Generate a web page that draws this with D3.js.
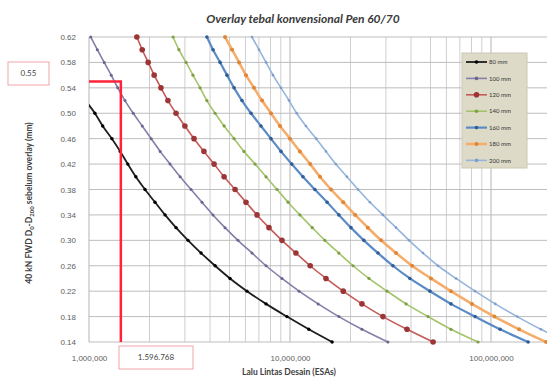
<!DOCTYPE html>
<html>
<head>
<meta charset="utf-8">
<script src="https://cdn.jsdelivr.net/npm/d3@7"></script>
<style>
  body { margin: 0; background: #fff; }
  svg { display: block; font-family: Lato, "Open Sans", sans-serif; }
</style>
</head>
<body>
<svg id="chart" width="547" height="381"></svg>
<script>
// deflection levels (mm) of every point, top to bottom
const dLevels = [0.62, 0.60, 0.58, 0.56, 0.54, 0.52, 0.50, 0.48, 0.46, 0.44, 0.42, 0.40, 0.38,
                 0.36, 0.34, 0.32, 0.30, 0.28, 0.26, 0.24, 0.22, 0.20, 0.18, 0.16, 0.14];

// design traffic (million ESA) for each overlay thickness, same order as dLevels
const esa80  = [null, null, null, null, 0.86, 0.96, 1.07, 1.17, 1.30, 1.43, 1.56, 1.71, 1.90,
                2.13, 2.39, 2.71, 3.11, 3.61, 4.24, 5.03, 6.11, 7.60, 9.66, 12.4, 16.2];
const esa100 = [1.02, 1.10, 1.19, 1.29, 1.39, 1.51, 1.66, 1.84, 2.04, 2.26, 2.53, 2.84, 3.22,
                3.65, 4.14, 4.75, 5.51, 6.47, 7.60, 9.12, 11.1, 13.8, 17.5, 22.8, 30.7];
const esa120 = [1.73, 1.84, 1.97, 2.11, 2.28, 2.47, 2.71, 3.00, 3.33, 3.73, 4.19, 4.70, 5.33,
                6.04, 6.85, 7.86, 9.12, 10.7, 12.6, 15.1, 18.4, 22.8, 29.0, 38.2, 51.5];
const esa140 = [2.62, 2.80, 3.04, 3.29, 3.57, 3.86, 4.24, 4.70, 5.27, 5.90, 6.70, 7.60, 8.62,
                9.78, 11.2, 12.9, 14.9, 17.5, 20.6, 24.7, 30.4, 37.8, 48.6, 63.2, 86.2];
const esa160 = [3.86, 4.14, 4.49, 4.86, 5.27, 5.77, 6.40, 7.17, 8.04, 9.02, 10.2, 11.6, 13.3,
                15.3, 17.5, 20.1, 23.3, 27.4, 32.5, 39.5, 49.7, 63.2, 83.3, 111, 153];
const esa180 = [4.75, 5.15, 5.58, 6.04, 6.62, 7.26, 8.04, 8.92, 10.0, 11.2, 12.6, 14.1, 16.0,
                18.4, 21.1, 24.4, 28.4, 33.7, 40.5, 50.3, 63.2, 80.4, 104, 138, 188];
const esa200 = [6.47, 7.01, 7.60, 8.23, 9.02, 9.89, 10.8, 12.0, 13.5, 15.1, 16.9, 19.2, 21.8,
                25.0, 29.0, 33.7, 39.1, 45.9, 54.5, 67.0, 83.3, 105, 135, 177, 242];

const seriesNames = ['80 mm', '100 mm', '120 mm', '140 mm', '160 mm', '180 mm', '200 mm'];
const yTicks = [0.14, 0.18, 0.22, 0.26, 0.30, 0.34, 0.38, 0.42, 0.46, 0.50, 0.54, 0.58, 0.62];
const xLabels = [1e6, 1e7, 1e8];

// red reading annotation
const annoDefl = 0.55;
const annoEsa = 1.44e6;   // where the red line sits in the picture
const annoEsaText = '1.596.768';
const annoDeflText = '0.55';

const styles = [
  { line: '#1e1e1e', mark: '#000000', w: 1.8, r: 1.7 },
  { line: '#857ea9', mark: '#6c6592', w: 1.6, r: 1.5 },
  { line: '#c65a58', mark: '#9c3536', w: 1.6, r: 2.8 },
  { line: '#a3c46a', mark: '#7f9f45', w: 1.6, r: 1.6 },
  { line: '#5a8bc6', mark: '#2f5d95', w: 2.2, r: 1.8 },
  { line: '#f6ad6a', mark: '#df8638', w: 2.6, r: 2.0 },
  { line: '#95b5dc', mark: '#7d9ecb', w: 1.6, r: 1.3 }
];

const allEsa = [esa80, esa100, esa120, esa140, esa160, esa180, esa200];
const series = seriesNames.map((name, i) => ({
  name: name,
  style: styles[i],
  points: dLevels.map((d, j) => ({ d: d, esa: allEsa[i][j] == null ? null : allEsa[i][j] * 1e6 }))
                 .filter(p => p.esa != null)
}));

const svg = d3.select('#chart');

const x = d3.scaleLog()
  .domain([1e6, 2e8])
  .range([89, 89 + 201 * Math.log10(200)]);
const y = d3.scaleLinear()
  .domain([0.14, 0.62])
  .range([342, 37]);

// grid
svg.append('g')
  .selectAll('line')
  .data(x.ticks().filter(t => t > 1e6 && t <= 2e8))
  .join('line')
  .attr('x1', d => x(d)).attr('x2', d => x(d))
  .attr('y1', y(0.62)).attr('y2', y(0.14))
  .attr('stroke', d => [1e7, 1e8].includes(d) ? '#b4b4b4' : '#cfcfcf')
  .attr('stroke-width', 1);

svg.append('g')
  .selectAll('line')
  .data(yTicks)
  .join('line')
  .attr('x1', x(1e6)).attr('x2', 547)
  .attr('y1', d => y(d)).attr('y2', d => y(d))
  .attr('stroke', '#bdbdbd')
  .attr('stroke-width', 1);

svg.append('line')
  .attr('x1', x(1e6)).attr('x2', x(1e6))
  .attr('y1', y(0.62)).attr('y2', y(0.14))
  .attr('stroke', '#b4b4b4');

// axes
const xAxis = svg.append('g')
  .attr('transform', `translate(0,${y(0.14)})`)
  .call(d3.axisBottom(x).tickValues(xLabels).tickFormat(d3.format(',')).tickSize(0).tickPadding(13));
xAxis.select('.domain').remove();
xAxis.selectAll('text').attr('fill', '#606060').attr('font-size', 8);

const yAxis = svg.append('g')
  .attr('transform', `translate(${x(1e6)},0)`)
  .call(d3.axisLeft(y).tickValues(yTicks).tickFormat(d3.format('.2f')).tickSize(0).tickPadding(13));
yAxis.select('.domain').remove();
yAxis.selectAll('text').attr('fill', '#606060').attr('font-size', 8);

// curves
svg.append('clipPath').attr('id', 'plotClip')
  .append('rect')
  .attr('x', x(1e6)).attr('y', 30)
  .attr('width', 547 - x(1e6)).attr('height', 317);

const lineGen = d3.line()
  .x(p => x(p.esa))
  .y(p => y(p.d))
  .curve(d3.curveMonotoneX);

const plot = svg.append('g').attr('clip-path', 'url(#plotClip)');

series.forEach(s => {
  plot.append('path')
    .datum(s.points)
    .attr('d', lineGen)
    .attr('fill', 'none')
    .attr('stroke', s.style.line)
    .attr('stroke-width', s.style.w);
  plot.append('g')
    .selectAll('circle')
    .data(s.points)
    .join('circle')
    .attr('cx', p => x(p.esa))
    .attr('cy', p => y(p.d))
    .attr('r', s.style.r)
    .attr('fill', s.style.mark);
});

// red reading lines
svg.append('path')
  .attr('d', `M${x(1e6)},${y(annoDefl)}H${x(annoEsa)}V${y(0.14)}`)
  .attr('fill', 'none')
  .attr('stroke', '#ff2238')
  .attr('stroke-width', 2.5);

function labelBox(cx, cy, w, h, txt) {
  svg.append('rect')
    .attr('x', cx - w / 2).attr('y', cy - h / 2)
    .attr('width', w).attr('height', h)
    .attr('fill', '#fff')
    .attr('stroke', '#f2a3aa')
    .attr('stroke-width', 1);
  svg.append('text')
    .attr('x', cx).attr('y', cy)
    .attr('dy', '0.35em')
    .attr('text-anchor', 'middle')
    .attr('font-size', 8)
    .attr('fill', '#444')
    .text(txt);
}
labelBox(28.5, 73.5, 41, 23, annoDeflText);
labelBox(156, 357.5, 74, 23, annoEsaText);

// legend
const legend = svg.append('g').attr('transform', 'translate(462,53)');
legend.append('rect')
  .attr('width', 65).attr('height', 115)
  .attr('fill', '#dddac7')
  .attr('stroke', '#cbc8b3');
const item = legend.selectAll('g.item')
  .data(series)
  .join('g')
  .attr('class', 'item')
  .attr('transform', (d, i) => `translate(0,${9 + i * 16.4})`);
item.append('line')
  .attr('x1', 4).attr('x2', 25)
  .attr('stroke', d => d.style.line)
  .attr('stroke-width', d => d.style.w);
item.append('circle')
  .attr('cx', 14.5)
  .attr('r', d => Math.max(d.style.r, 1.8))
  .attr('fill', d => d.style.mark);
item.append('text')
  .attr('x', 27).attr('dy', '0.35em')
  .attr('font-size', 6)
  .attr('fill', '#333')
  .text(d => d.name);

// titles
svg.append('text')
  .attr('x', 303).attr('y', 23)
  .attr('text-anchor', 'middle')
  .attr('font-size', 12)
  .attr('font-weight', 'bold')
  .attr('font-style', 'italic')
  .attr('fill', '#3a3a3a')
  .text('Overlay tebal konvensional Pen 60/70');

svg.append('text')
  .attr('x', 289).attr('y', 375)
  .attr('text-anchor', 'middle')
  .attr('font-size', 8.5)
  .attr('font-weight', 'bold')
  .attr('fill', '#404040')
  .text('Lalu Lintas Desain (ESAs)');

const yTitle = svg.append('text')
  .attr('transform', 'translate(32,203) rotate(-90)')
  .attr('text-anchor', 'middle')
  .attr('font-size', 8.5)
  .attr('font-weight', 'bold')
  .attr('fill', '#404040');
yTitle.append('tspan').text('40 kN FWD D');
yTitle.append('tspan').attr('font-size', 6).attr('dy', 2).text('0');
yTitle.append('tspan').attr('dy', -2).text('-D');
yTitle.append('tspan').attr('font-size', 6).attr('dy', 2).text('200');
yTitle.append('tspan').attr('dy', -2).text(' sebelum overlay (mm)');
</script>
</body>
</html>
